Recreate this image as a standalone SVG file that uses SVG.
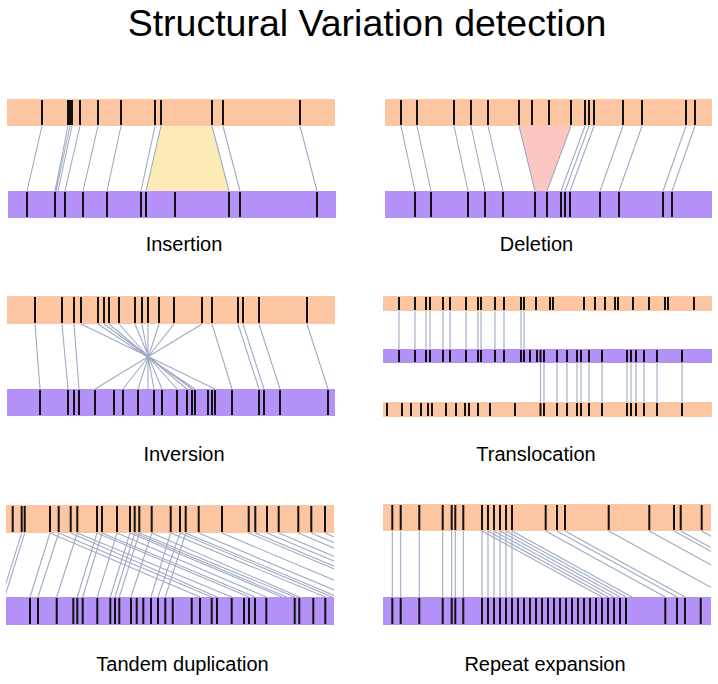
<svg xmlns="http://www.w3.org/2000/svg" width="718" height="684" viewBox="0 0 718 684">
<style>
.ref{fill:#fbc6a1}
.qry{fill:#b391f6}
.tk{stroke:#111;stroke-width:2;fill:none}
.cn{stroke:#9fabc4;stroke-width:1.1;fill:none}
.lbl{font-family:"Liberation Sans",Arial,sans-serif;font-size:20px;fill:#000;text-anchor:middle}
.ttl{font-family:"Liberation Sans",Arial,sans-serif;font-size:37.5px;fill:#000;text-anchor:middle}
</style>
<defs>
<clipPath id="c5"><rect x="6" y="500" width="328" height="130"/></clipPath>
<clipPath id="c6"><rect x="383" y="500" width="328" height="130"/></clipPath>
</defs>
<rect width="718" height="684" fill="#fff"/>
<text class="ttl" x="367" y="36">Structural Variation detection</text>

<g id="insertion-ref"><rect class="ref" x="7" y="99" width="328" height="27"/></g>
<g id="insertion-qry"><rect class="qry" x="8" y="191" width="328" height="27"/></g>
<g id="insertion-region"><polygon points="161,126 212,126 229,191 146,191" fill="#fdebb6"/></g>
<g id="deletion-ref"><rect class="ref" x="385" y="99" width="327" height="27"/></g>
<g id="deletion-qry"><rect class="qry" x="385" y="191" width="327" height="27"/></g>
<g id="deletion-region"><polygon points="519,126 571,126 547,191 535,191" fill="#fdc7c1"/></g>
<g id="inversion-ref"><rect class="ref" x="7" y="296" width="328" height="28"/></g>
<g id="inversion-qry"><rect class="qry" x="7" y="389" width="328" height="27"/></g>
<g id="transloc-ref1"><rect class="ref" x="383" y="296" width="329" height="15"/></g>
<g id="transloc-qry"><rect class="qry" x="383" y="349" width="329" height="14"/></g>
<g id="transloc-ref2"><rect class="ref" x="383" y="402" width="329" height="15"/></g>
<g id="tandem-ref"><rect class="ref" x="6" y="505" width="328" height="28"/></g>
<g id="tandem-qry"><rect class="qry" x="6" y="597" width="328" height="28"/></g>
<g id="repeat-ref"><rect class="ref" x="383" y="504" width="328" height="27"/></g>
<g id="repeat-qry"><rect class="qry" x="383" y="597" width="328" height="28"/></g>

<g id="connectors">
<path class="cn" d="M42 126L27 191M68 126L55 191M70 126L56 191M72 126L58 191M80 126L65 191M98 126L83 191M121 126L107 191M155 126L141 191M161 126L146 191M212 126L229 191M223 126L240 191M300 126L317 191"/>
<path class="cn" d="M401 126L415 191M417 126L431 191M454 126L468 191M471 126L485 191M488 126L503 191M519 126L535 191M571 126L547 191M585 126L561 191M589 126L565 191M594 126L570 191M623 126L600 191M642 126L619 191M686 126L663 191M695 126L672 191"/>
<path class="cn" d="M35 324L40 389M62 324L68 389M74 324L79 389M81 324L215 389M98 324L195 389M104 324L192 389M109 324L187 389M119 324L177 389M135 324L162 389M142 324L154 389M148 324L148 389M159 324L138 389M174 324L123 389M202 324L95 389M212 324L232 389M238 324L259 389M243 324L264 389M259 324L280 389M307 324L328 389"/>
<path class="cn" d="M399 311V349M415 311V349M426 311V349M430 311V349M443 311V349M450 311V349M466 311V349M478 311V349M481 311V349M495 311V349M504 311V349M521 311V349M524 311V349"/>
<path class="cn" d="M540.5 363V402M544 363V402M557 363V402M567 363V402M577 363V402M581 363V402M589 363V402M602 363V402M627 363V402M631 363V402M636 363V402M644 363V402M657 363V402M682 363V402"/>
<g clip-path="url(#c5)">
<path class="cn" d="M21.7 533L1.7 597M24.7 533L4.7 597M50 533L30 597M58.7 533L38 597M77.3 533L56.7 597M97 533L77.3 597M102 533L82.7 597M117 533L97.3 597M130 533L110.3 597M134.7 533L115 597M139.3 533L119.3 597M151.7 533L131 597M170.7 533L151 597M180 533L158 597M185.7 533L165.3 597"/>
<path class="cn" d="M50 533L200 597M58.7 533L211.7 597M70.7 533L217 597M77.3 533L231.7 597M97 533L249 597M102 533L255 597M117 533L266.3 597M130 533L282 597M134.7 533L286.7 597M139.3 533L294.7 597M151.7 533L299.3 597M170.7 533L325.3 597M180 533L332 597M185.7 533L337.7 597M198.7 533L350.7 597M222 533L374 597M248.7 533L400.7 597M255.3 533L407.3 597M267 533L419 597M278.7 533L430.7 597M298.3 533L450.3 597M311.3 533L463.3 597M325 533L477 597"/>
</g>
<g clip-path="url(#c6)">
<path class="cn" d="M392.3 531V597M400.7 531V597M419.3 531V597M442.7 531V597M451.7 531V597M455.3 531V597M463.3 531V597M482 531V597M488 531V597M494 531V597M500 531V597M506 531V597M512 531V597"/>
<path class="cn" d="M482 531L602 597M488 531L608 597M494 531L614 597M500 531L620 597M506 531L626 597M512 531L632 597M545.7 531L665.3 597M557 531L677 597M565 531L685 597M608.7 531L728.7 597M649.3 531L769.3 597M674 531L794 597M680.7 531L800.7 597M701.7 531L821.7 597"/>
</g>
</g>

<g id="ticks">
<path class="tk" d="M42 100V125M68 100V125M70 100V125M72 100V125M80 100V125M98 100V125M121 100V125M155 100V125M161 100V125M212 100V125M223 100V125M300 100V125"/>
<path class="tk" d="M27 192V217M55 192V217M65 192V217M83 192V217M107 192V217M141 192V217M146 192V217M175 192V217M229 192V217M240 192V217M317 192V217"/>
<path class="tk" d="M401 100V125M417 100V125M454 100V125M471 100V125M488 100V125M519 100V125M532 100V125M549 100V125M571 100V125M585 100V125M589 100V125M594 100V125M623 100V125M642 100V125M686 100V125M695 100V125"/>
<path class="tk" d="M415 192V217M431 192V217M468 192V217M485 192V217M503 192V217M535 192V217M547 192V217M561 192V217M565 192V217M570 192V217M600 192V217M619 192V217M663 192V217M672 192V217"/>
<path class="tk" d="M35 297V323M62 297V323M74 297V323M81 297V323M98 297V323M104 297V323M109 297V323M119 297V323M135 297V323M142 297V323M148 297V323M159 297V323M174 297V323M202 297V323M212 297V323M238 297V323M243 297V323M259 297V323M307 297V323"/>
<path class="tk" d="M40 390V415M68 390V415M74 390V415M79 390V415M95 390V415M114 390V415M123 390V415M138 390V415M154 390V415M162 390V415M177 390V415M187 390V415M192 390V415M195 390V415M208 390V415M212 390V415M215 390V415M232 390V415M259 390V415M264 390V415M280 390V415M328 390V415"/>
<path class="tk" d="M399 297V310M415 297V310M426 297V310M430 297V310M443 297V310M450 297V310M466 297V310M478 297V310M481 297V310M495 297V310M504 297V310M521 297V310M524 297V310M536 297V310M550 297V310M553 297V310M584 297V310M595 297V310M605 297V310M615 297V310M618 297V310M633 297V310M649 297V310M665 297V310M668 297V310M694 297V310"/>
<path class="tk" d="M399 350V362M415 350V362M426 350V362M430 350V362M443 350V362M450 350V362M466 350V362M478 350V362M481 350V362M495 350V362M504 350V362M521 350V362M524 350V362M530 350V362M537 350V362M540.5 350V362M544 350V362M557 350V362M567 350V362M577 350V362M581 350V362M589 350V362M602 350V362M627 350V362M631 350V362M636 350V362M644 350V362M657 350V362M682 350V362"/>
<path class="tk" d="M387 403V416M402 403V416M411 403V416M421 403V416M428 403V416M432 403V416M446 403V416M456 403V416M465 403V416M469 403V416M478 403V416M490 403V416M515 403V416M540.5 403V416M544 403V416M557 403V416M567 403V416M577 403V416M581 403V416M589 403V416M602 403V416M627 403V416M631 403V416M636 403V416M644 403V416M657 403V416M682 403V416"/>
<path class="tk" d="M12.7 506V532M21.7 506V532M24.7 506V532M50 506V532M58.7 506V532M70.7 506V532M77.3 506V532M97 506V532M102 506V532M117 506V532M130 506V532M134.7 506V532M139.3 506V532M151.7 506V532M170.7 506V532M180 506V532M185.7 506V532M198.7 506V532M222 506V532M248.7 506V532M255.3 506V532M267 506V532M278.7 506V532M298.3 506V532M311.3 506V532M325 506V532"/>
<path class="tk" d="M30 598V624M38 598V624M56.7 598V624M73.3 598V624M77.3 598V624M82.7 598V624M97.3 598V624M110.3 598V624M115 598V624M119.3 598V624M131 598V624M136.7 598V624M143.3 598V624M151 598V624M158 598V624M165.3 598V624M172.7 598V624M191.7 598V624M200 598V624M211.7 598V624M217 598V624M231.7 598V624M244 598V624M249 598V624M255 598V624M266.3 598V624M294.7 598V624M299.3 598V624M313.3 598V624M325.3 598V624"/>
<path class="tk" d="M392.3 505V530M400.7 505V530M419.3 505V530M442.7 505V530M451.7 505V530M455.3 505V530M463.3 505V530M482 505V530M488 505V530M494 505V530M500 505V530M506 505V530M512 505V530M545.7 505V530M557 505V530M565 505V530M608.7 505V530M649.3 505V530M674 505V530M680.7 505V530M701.7 505V530"/>
<path class="tk" d="M392.3 598V624M400.7 598V624M419.3 598V624M442.7 598V624M451.7 598V624M455.3 598V624M463.3 598V624M482 598V624M488 598V624M494 598V624M500 598V624M506 598V624M512 598V624M518 598V624M524 598V624M530 598V624M536 598V624M542 598V624M548 598V624M554 598V624M560 598V624M566 598V624M572 598V624M578 598V624M584 598V624M590 598V624M596 598V624M602 598V624M608 598V624M614 598V624M620 598V624M626 598V624M665.3 598V624M677 598V624M685 598V624M700.7 598V624"/>
</g>

<g id="labels">
<text class="lbl" x="184" y="251">Insertion</text>
<text class="lbl" x="536.5" y="251">Deletion</text>
<text class="lbl" x="184" y="461">Inversion</text>
<text class="lbl" x="536" y="461">Translocation</text>
<text class="lbl" x="182.5" y="671">Tandem duplication</text>
<text class="lbl" x="545" y="671">Repeat expansion</text>
</g>
</svg>
